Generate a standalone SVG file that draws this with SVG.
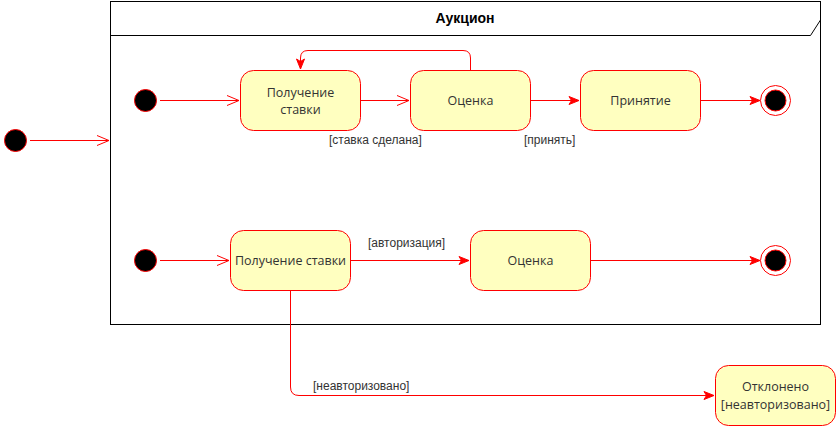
<svg xmlns="http://www.w3.org/2000/svg" width="836" height="427" viewBox="0 0 836 427">
<defs>
<marker id="open" markerWidth="14" markerHeight="12" refX="13" refY="6" orient="auto" markerUnits="userSpaceOnUse">
<path d="M1,1 L13,6 L1,11" fill="none" stroke="#FF0000" stroke-width="1"/>
</marker>
<marker id="filled" markerWidth="12" markerHeight="10" refX="11" refY="5" orient="auto" markerUnits="userSpaceOnUse">
<path d="M1,1 L11,5 L1,9 L3.5,5 Z" fill="#FF0000" stroke="#FF0000" stroke-width="1"/>
</marker>
</defs>
<style>
.state{fill:#FFFFC0;stroke:#FF0000;stroke-width:1}
.init{fill:#000000;stroke:#FF0000;stroke-width:1}
.txt{font-family:"Open Sans","Noto Sans",sans-serif;font-size:12.5px;fill:#333333;text-anchor:middle;dominant-baseline:central}
.lbl{font-family:"Liberation Sans",Arial,sans-serif;font-size:12px;fill:#333333;dominant-baseline:central}
.edge{fill:none;stroke:#FF0000;stroke-width:1}
.frame{fill:#FFFFFF;stroke:#000000;stroke-width:1}
</style>
<rect width="836" height="427" fill="#FFFFFF"/>
<g id="frame">
<rect class="frame" x="110.5" y="1.5" width="710" height="323"/>
<path d="M110.5,35.5 L810.5,35.5 L820.5,20" fill="none" stroke="#000000" stroke-width="1"/>
<text x="465" y="18" font-family="Liberation Sans,Arial,sans-serif" font-size="14" font-weight="bold" fill="#000000" text-anchor="middle" dominant-baseline="central">Аукцион</text>
</g>
<g id="connectors">
<path class="edge" d="M30,140.5 L109,140.5" marker-end="url(#open)"/>
<path class="edge" d="M160,100.5 L239,100.5" marker-end="url(#open)"/>
<path class="edge" d="M360,100.5 L409,100.5" marker-end="url(#open)"/>
<path class="edge" d="M470.5,70 L470.5,58 Q470.5,50.5 463,50.5 L308,50.5 Q300.5,50.5 300.5,58 L300.5,69" marker-end="url(#filled)"/>
<path class="edge" d="M530,100.5 L579,100.5" marker-end="url(#filled)"/>
<path class="edge" d="M700,100.5 L760,100.5" marker-end="url(#filled)"/>
<path class="edge" d="M160,260.5 L229,260.5" marker-end="url(#open)"/>
<path class="edge" d="M350,260.5 L469,260.5" marker-end="url(#filled)"/>
<path class="edge" d="M590,260.5 L760,260.5" marker-end="url(#filled)"/>
<path class="edge" d="M290.5,290 L290.5,387 Q290.5,395.5 299,395.5 L714,395.5" marker-end="url(#filled)"/>
<text class="lbl" x="329" y="140">[ставка сделана]</text>
<text class="lbl" x="524" y="140">[принять]</text>
<text class="lbl" x="368" y="243">[авторизация]</text>
<text class="lbl" x="313" y="386">[неавторизовано]</text>
</g>
<g id="outer-initial"><circle class="init" cx="15.5" cy="140.5" r="11"/></g>
<g id="initial1"><circle class="init" cx="145.5" cy="100.5" r="11"/></g>
<g id="receive1">
<rect class="state" x="240.5" y="70.5" width="120" height="60" rx="13"/>
<text class="txt" x="300.5" y="92">Получение</text>
<text class="txt" x="300.5" y="109">ставки</text>
</g>
<g id="evaluate1">
<rect class="state" x="410.5" y="70.5" width="120" height="60" rx="13"/>
<text class="txt" x="470.5" y="100.5">Оценка</text>
</g>
<g id="accept">
<rect class="state" x="580.5" y="70.5" width="120" height="60" rx="13"/>
<text class="txt" x="640.5" y="100.5">Принятие</text>
</g>
<g id="final1">
<circle cx="775.5" cy="100.5" r="15" fill="#FFFFFF" stroke="#FF0000" stroke-width="1"/>
<circle cx="775.5" cy="100.5" r="10.5" class="init"/>
</g>
<g id="initial2"><circle class="init" cx="145.5" cy="260.5" r="11"/></g>
<g id="receive2">
<rect class="state" x="230.5" y="230.5" width="120" height="60" rx="13"/>
<text class="txt" x="290.5" y="260.5">Получение ставки</text>
</g>
<g id="evaluate2">
<rect class="state" x="470.5" y="230.5" width="120" height="60" rx="13"/>
<text class="txt" x="530.5" y="260.5">Оценка</text>
</g>
<g id="final2">
<circle cx="775.5" cy="260.5" r="15" fill="#FFFFFF" stroke="#FF0000" stroke-width="1"/>
<circle cx="775.5" cy="260.5" r="10.5" class="init"/>
</g>
<g id="rejected">
<rect class="state" x="715.5" y="365.5" width="120" height="60" rx="13"/>
<text class="txt" x="775.5" y="386">Отклонено</text>
<text class="txt" x="775.5" y="404">[неавторизовано]</text>
</g>
</svg>
